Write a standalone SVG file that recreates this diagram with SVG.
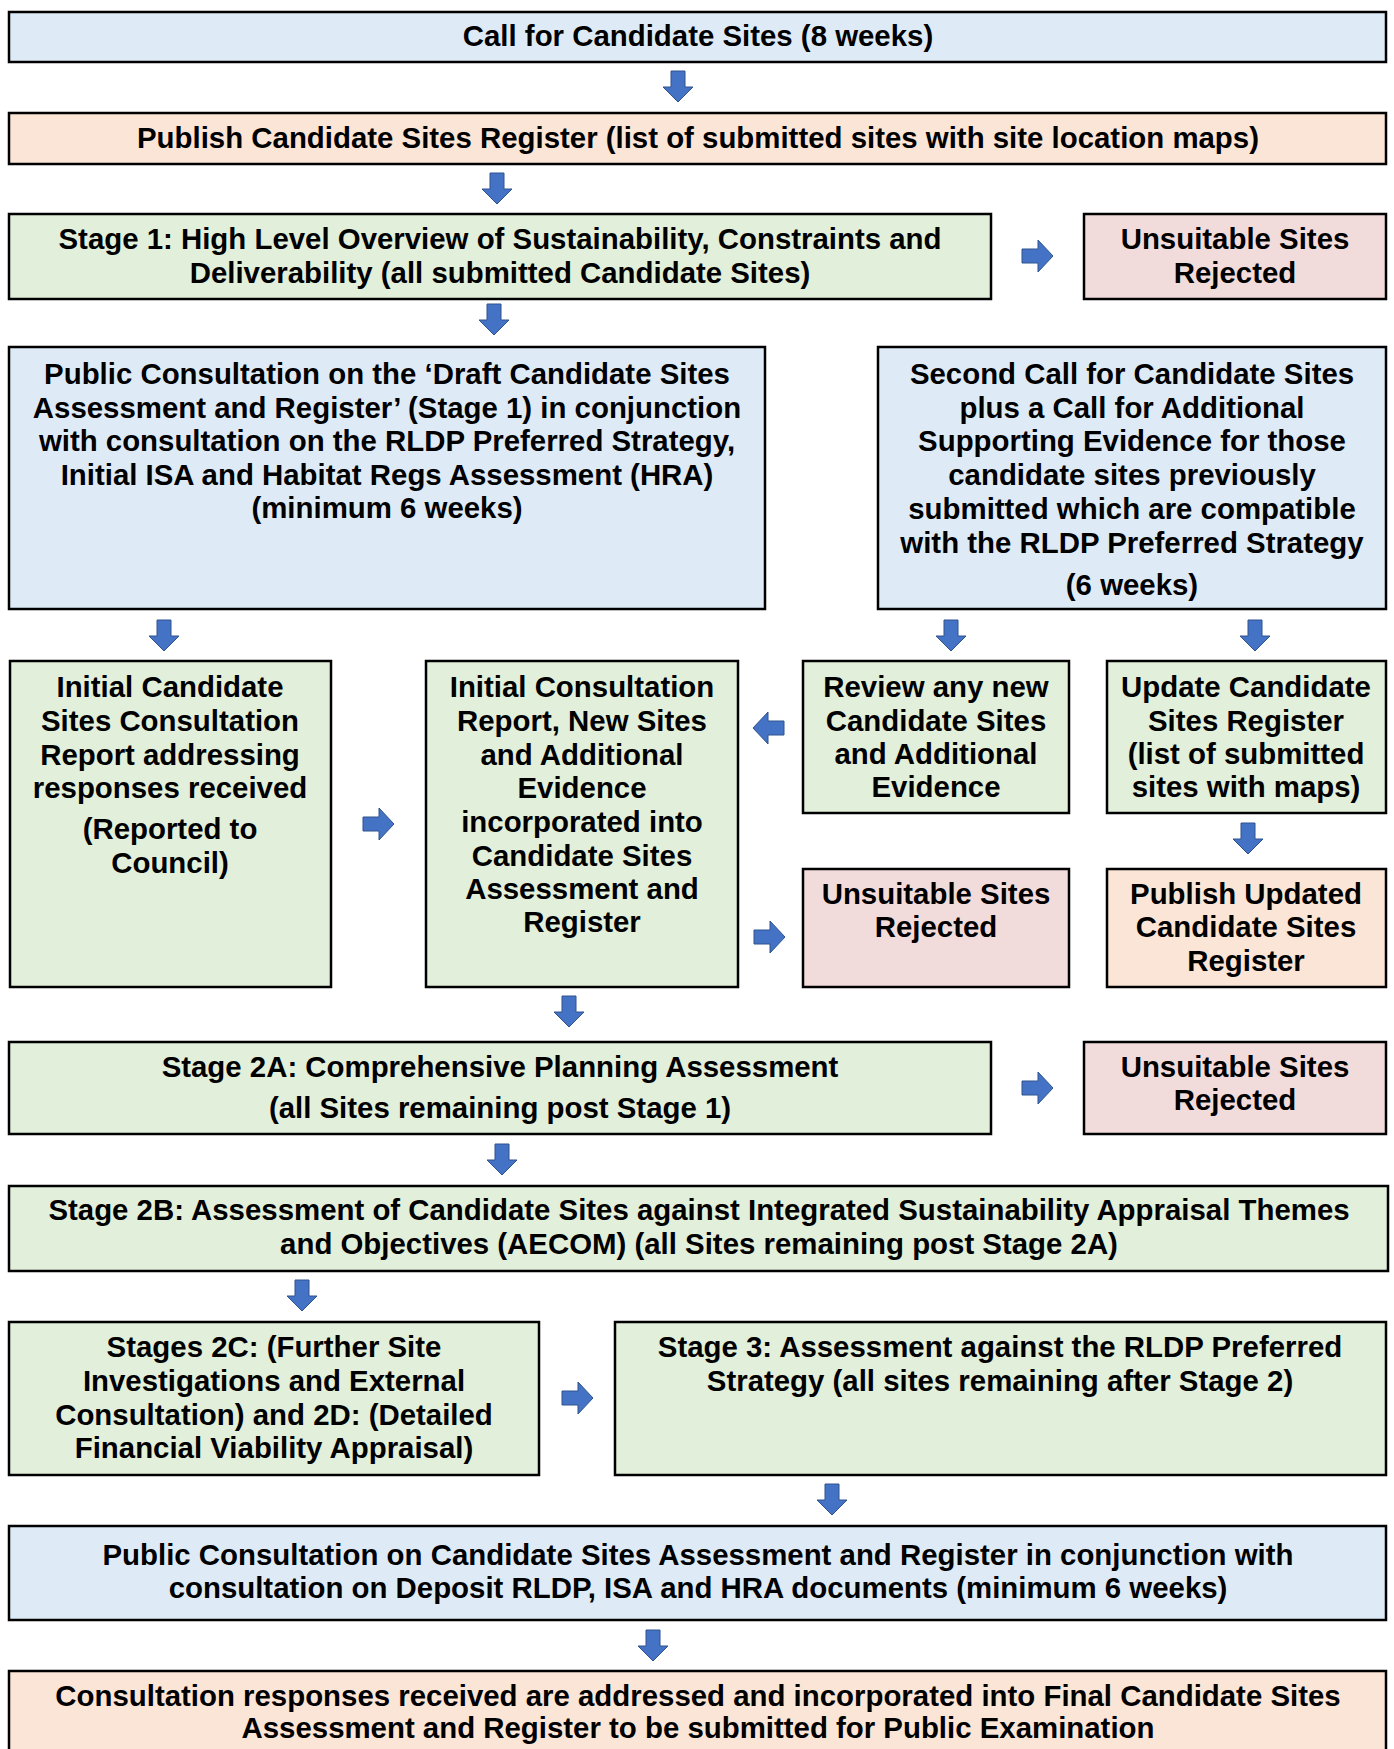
<svg xmlns="http://www.w3.org/2000/svg" width="1394" height="1749" viewBox="0 0 1394 1749">
<style>
.box{stroke:#000;stroke-width:2.5}
.blue{fill:#DEEBF7}
.peach{fill:#FBE5D6}
.green{fill:#E2EFDA}
.pink{fill:#F2DCDB}
text{font-weight:700;font-size:29.4px;fill:#000;text-anchor:middle}
.arr{fill:#4472C4;stroke:#2F528F;stroke-width:1}
</style>
<defs>
<path id="ad" class="arr" d="M-7,0 H7 V16 H15 L0,31 L-15,16 H-7 Z"/>
<path id="ar" class="arr" d="M0,-7 H16 V-16 L31,0 L16,16 V7 H0 Z"/>
<path id="al" class="arr" d="M0,-7 H-16 V-16 L-31,0 L-16,16 V7 H0 Z"/>
</defs>
<rect width="1394" height="1749" fill="#fff"/>
<g font-family="Liberation Sans, Arial, sans-serif">
<g id="n1"><rect class="box blue" x="9" y="12" width="1377" height="50"/><text x="698" y="46">Call for Candidate Sites (8 weeks)</text></g>
<g id="n2"><rect class="box peach" x="9" y="113" width="1377" height="51"/><text x="698" y="148">Publish Candidate Sites Register (list of submitted sites with site location maps)</text></g>
<g id="n3"><rect class="box green" x="9" y="214" width="982" height="85"/><text x="500" y="249">Stage 1: High Level Overview of Sustainability, Constraints and</text><text x="500" y="283">Deliverability (all submitted Candidate Sites)</text></g>
<g id="n4"><rect class="box pink" x="1084" y="214" width="302" height="85"/><text x="1235" y="249">Unsuitable Sites</text><text x="1235" y="283">Rejected</text></g>
<g id="n5"><rect class="box blue" x="9" y="347" width="756" height="262"/><text x="387" y="384">Public Consultation on the ‘Draft Candidate Sites</text><text x="387" y="418">Assessment and Register’ (Stage 1) in conjunction</text><text x="387" y="451">with consultation on the RLDP Preferred Strategy,</text><text x="387" y="485">Initial ISA and Habitat Regs Assessment (HRA)</text><text x="387" y="518">(minimum 6 weeks)</text></g>
<g id="n6"><rect class="box blue" x="878" y="347" width="508" height="262"/><text x="1132" y="384">Second Call for Candidate Sites</text><text x="1132" y="418">plus a Call for Additional</text><text x="1132" y="451">Supporting Evidence for those</text><text x="1132" y="485">candidate sites previously</text><text x="1132" y="519">submitted which are compatible</text><text x="1132" y="553">with the RLDP Preferred Strategy</text><text x="1132" y="595">(6 weeks)</text></g>
<g id="n7"><rect class="box green" x="10" y="661" width="321" height="326"/><text x="170" y="697">Initial Candidate</text><text x="170" y="731">Sites Consultation</text><text x="170" y="765">Report addressing</text><text x="170" y="798">responses received</text><text x="170" y="839">(Reported to</text><text x="170" y="873">Council)</text></g>
<g id="n8"><rect class="box green" x="426" y="661" width="312" height="326"/><text x="582" y="697">Initial Consultation</text><text x="582" y="731">Report, New Sites</text><text x="582" y="765">and Additional</text><text x="582" y="798">Evidence</text><text x="582" y="832">incorporated into</text><text x="582" y="866">Candidate Sites</text><text x="582" y="899">Assessment and</text><text x="582" y="932">Register</text></g>
<g id="n9"><rect class="box green" x="803" y="661" width="266" height="152"/><text x="936" y="697">Review any new</text><text x="936" y="731">Candidate Sites</text><text x="936" y="764">and Additional</text><text x="936" y="797">Evidence</text></g>
<g id="n10"><rect class="box green" x="1107" y="661" width="279" height="152"/><text x="1246" y="697">Update Candidate</text><text x="1246" y="731">Sites Register</text><text x="1246" y="764">(list of submitted</text><text x="1246" y="797">sites with maps)</text></g>
<g id="n11"><rect class="box pink" x="803" y="869" width="266" height="118"/><text x="936" y="904">Unsuitable Sites</text><text x="936" y="937">Rejected</text></g>
<g id="n12"><rect class="box peach" x="1107" y="869" width="279" height="118"/><text x="1246" y="904">Publish Updated</text><text x="1246" y="937">Candidate Sites</text><text x="1246" y="971">Register</text></g>
<g id="n13"><rect class="box green" x="9" y="1042" width="982" height="92"/><text x="500" y="1077">Stage 2A: Comprehensive Planning Assessment</text><text x="500" y="1118">(all Sites remaining post Stage 1)</text></g>
<g id="n14"><rect class="box pink" x="1084" y="1042" width="302" height="92"/><text x="1235" y="1077">Unsuitable Sites</text><text x="1235" y="1110">Rejected</text></g>
<g id="n15"><rect class="box green" x="9" y="1186" width="1379" height="85"/><text x="699" y="1220">Stage 2B: Assessment of Candidate Sites against Integrated Sustainability Appraisal Themes</text><text x="699" y="1254">and Objectives (AECOM) (all Sites remaining post Stage 2A)</text></g>
<g id="n16"><rect class="box green" x="9" y="1322" width="530" height="153"/><text x="274" y="1357">Stages 2C: (Further Site</text><text x="274" y="1391">Investigations and External</text><text x="274" y="1425">Consultation) and 2D: (Detailed</text><text x="274" y="1458">Financial Viability Appraisal)</text></g>
<g id="n17"><rect class="box green" x="615" y="1322" width="771" height="153"/><text x="1000" y="1357">Stage 3: Assessment against the RLDP Preferred</text><text x="1000" y="1391">Strategy (all sites remaining after Stage 2)</text></g>
<g id="n18"><rect class="box blue" x="9" y="1526" width="1377" height="94"/><text x="698" y="1565">Public Consultation on Candidate Sites Assessment and Register in conjunction with</text><text x="698" y="1598">consultation on Deposit RLDP, ISA and HRA documents (minimum 6 weeks)</text></g>
<g id="n19"><rect class="box peach" x="9" y="1671" width="1377" height="90"/><text x="698" y="1706">Consultation responses received are addressed and incorporated into Final Candidate Sites</text><text x="698" y="1738">Assessment and Register to be submitted for Public Examination</text></g>
</g>
<g id="connectors">
<use href="#ad" x="678" y="71"/>
<use href="#ad" x="497" y="173"/>
<use href="#ar" x="1022" y="256"/>
<use href="#ad" x="494" y="304"/>
<use href="#ad" x="164" y="620"/>
<use href="#ad" x="951" y="620"/>
<use href="#ad" x="1255" y="620"/>
<use href="#al" x="784" y="728"/>
<use href="#ar" x="363" y="824"/>
<use href="#ad" x="1248" y="823"/>
<use href="#ar" x="754" y="937"/>
<use href="#ad" x="569" y="996"/>
<use href="#ar" x="1022" y="1088"/>
<use href="#ad" x="502" y="1144"/>
<use href="#ad" x="302" y="1280"/>
<use href="#ar" x="562" y="1398"/>
<use href="#ad" x="832" y="1484"/>
<use href="#ad" x="653" y="1630"/>
</g>
</svg>
